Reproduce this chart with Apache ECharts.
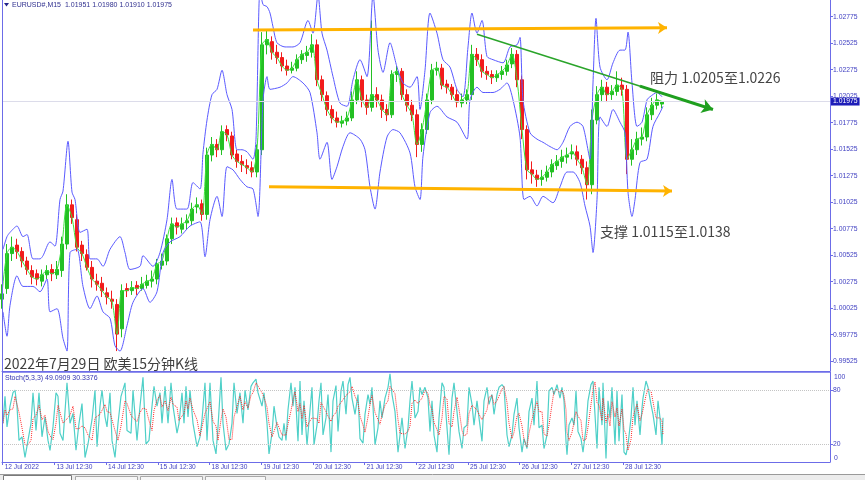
<!DOCTYPE html>
<html><head><meta charset="utf-8">
<script src="https://cdn.jsdelivr.net/npm/echarts@6/dist/echarts.min.js"></script>
<style>html,body{margin:0;padding:0;background:#fff}#c{width:865px;height:480px}</style>
</head><body><div id="c"></div>
<script>
// ---- axis ticks ----
const priceTicks = [1.02775,1.02525,1.02275,1.02025,1.01775,1.01525,1.01275,1.01025,1.00775,1.00525,1.00275,1.00025,0.99775,0.99525];
const timeTickPos = [2.7,54.4,106.1,157.8,209.5,261.2,312.9,364.6,416.3,468,519.7,571.4,623.1];
const timeTickLabels = ['12 Jul 2022','13 Jul 12:30','14 Jul 12:30','15 Jul 12:30','18 Jul 12:30','19 Jul 12:30','20 Jul 12:30','21 Jul 12:30','22 Jul 12:30','25 Jul 12:30','26 Jul 12:30','27 Jul 12:30','28 Jul 12:30'];
const stochLevels = [20,80];

// ---- price candles (one candle per 5 bar-slots) ----
const candleOpen = [1.0011,1.0021,1.0054,1.0062,1.0056,1.0047,1.0038,1.0035,1.0028,1.0034,
1.0039,1.0034,1.0038,1.0063,1.0100,1.0086,1.0062,1.0053,1.0041,1.0028,
1.0026,1.0017,1.0011,1.0006,0.9983,1.0021,1.0019,1.0024,1.0021,1.0024,
1.0028,1.0030,1.0043,1.0047,1.0068,1.0083,1.0077,1.0083,1.0085,1.0098,
1.0101,1.0091,1.0147,1.0157,1.0152,1.0171,1.0165,1.0148,1.0141,1.0137,
1.0135,1.0131,1.0152,1.0251,1.0254,1.0244,1.0239,1.0231,1.0227,1.0229,
1.0237,1.0241,1.0244,1.0251,1.0218,1.0203,1.0190,1.0182,1.0177,1.0179,
1.0182,1.0199,1.0218,1.0199,1.0192,1.0204,1.0199,1.0190,1.0185,1.0223,
1.0226,1.0204,1.0194,1.0185,1.0157,1.0171,1.0199,1.0227,1.0229,1.0214,
1.0211,1.0204,1.0196,1.0199,1.0204,1.0242,1.0237,1.0226,1.0223,1.0220,
1.0223,1.0226,1.0233,1.0242,1.0218,1.0171,1.0133,1.0128,1.0124,1.0126,
1.0131,1.0137,1.0141,1.0145,1.0148,1.0150,1.0143,1.0135,1.0119,1.0180,
1.0204,1.0211,1.0204,1.0207,1.0213,1.0209,1.0143,1.0152,1.0162,1.0164,
1.0185,1.0194,1.01951];
const candleClose = [1.0016,1.0054,1.0060,1.0056,1.0047,1.0039,1.0032,1.0030,1.0034,1.0038,
1.0035,1.0039,1.0063,1.0100,1.0088,1.0060,1.0054,1.0041,1.0030,1.0025,
1.0019,1.0013,1.0009,0.9978,1.0019,1.0019,1.0022,1.0021,1.0025,1.0028,
1.0030,1.0044,1.0047,1.0068,1.0082,1.0079,1.0082,1.0085,1.0096,1.0100,
1.0091,1.0147,1.0157,1.0152,1.0169,1.0166,1.0147,1.0141,1.0138,1.0135,
1.0131,1.0152,1.0251,1.0256,1.0244,1.0239,1.0231,1.0227,1.0229,1.0237,
1.0242,1.0244,1.0251,1.0218,1.0204,1.0190,1.0182,1.0178,1.0179,1.0182,
1.0199,1.0218,1.0199,1.0192,1.0204,1.0199,1.0190,1.0185,1.0223,1.0226,
1.0204,1.0194,1.0185,1.0157,1.0171,1.0199,1.0227,1.0229,1.0213,1.0211,
1.0204,1.0197,1.0199,1.0204,1.0242,1.0237,1.0226,1.0223,1.0220,1.0223,
1.0226,1.0232,1.0242,1.0218,1.0171,1.0133,1.0129,1.0124,1.0126,1.0131,
1.0138,1.0141,1.0145,1.0147,1.0150,1.0143,1.0135,1.0119,1.0180,1.0204,
1.0211,1.0204,1.0207,1.0213,1.0209,1.0143,1.0152,1.0162,1.0164,1.0185,
1.0194,1.0199,1.01975];
const candleLow = [1.0002,1.0016,1.0047,1.0049,1.0041,1.0034,1.0025,1.0024,1.0023,1.0030,
1.0028,1.0030,1.0032,1.0058,1.0082,1.0056,1.0047,1.0038,1.0022,1.0019,
1.0013,1.0006,1.0002,0.9962,0.9975,1.0013,1.0015,1.0015,1.0019,1.0021,
1.0022,1.0025,1.0039,1.0043,1.0063,1.0072,1.0073,1.0077,1.0081,1.0092,
1.0085,1.0086,1.0141,1.0145,1.0147,1.0160,1.0143,1.0135,1.0131,1.0129,
1.0126,1.0126,1.0147,1.0242,1.0237,1.0233,1.0226,1.0222,1.0224,1.0226,
1.0233,1.0235,1.0239,1.0212,1.0197,1.0184,1.0177,1.0173,1.0173,1.0175,
1.0179,1.0195,1.0192,1.0185,1.0188,1.0192,1.0182,1.0179,1.0182,1.0216,
1.0199,1.0188,1.0179,1.0145,1.0150,1.0167,1.0195,1.0222,1.0209,1.0205,
1.0199,1.0192,1.0192,1.0195,1.0199,1.0231,1.0220,1.0218,1.0214,1.0216,
1.0218,1.0222,1.0229,1.0211,1.0162,1.0124,1.0120,1.0117,1.0118,1.0122,
1.0126,1.0133,1.0135,1.0139,1.0143,1.0137,1.0129,1.0105,1.0110,1.0176,
1.0197,1.0197,1.0199,1.0203,1.0203,1.0129,1.0137,1.0147,1.0156,1.0160,
1.0180,1.0190,1.01910];
const candleHigh = [1.0025,1.0063,1.0070,1.0068,1.0060,1.0051,1.0043,1.0039,1.0039,1.0043,
1.0044,1.0047,1.0070,1.0110,1.0105,1.0091,1.0066,1.0058,1.0047,1.0035,
1.0032,1.0022,1.0019,1.0011,1.0025,1.0026,1.0028,1.0028,1.0032,1.0034,
1.0038,1.0049,1.0054,1.0072,1.0088,1.0088,1.0088,1.0091,1.0102,1.0107,
1.0105,1.0154,1.0164,1.0162,1.0175,1.0175,1.0169,1.0152,1.0147,1.0143,
1.0141,1.0157,1.0263,1.0265,1.0259,1.0251,1.0244,1.0237,1.0235,1.0242,
1.0246,1.0250,1.0261,1.0256,1.0222,1.0207,1.0194,1.0188,1.0184,1.0188,
1.0207,1.0226,1.0222,1.0204,1.0274,1.0211,1.0204,1.0195,1.0227,1.0231,
1.0229,1.0209,1.0199,1.0190,1.0177,1.0205,1.0233,1.0235,1.0233,1.0218,
1.0214,1.0209,1.0205,1.0209,1.0251,1.0248,1.0242,1.0231,1.0227,1.0227,
1.0231,1.0237,1.0248,1.0246,1.0222,1.0175,1.0141,1.0133,1.0133,1.0137,
1.0143,1.0147,1.0152,1.0154,1.0157,1.0156,1.0147,1.0141,1.0190,1.0212,
1.0218,1.0216,1.0213,1.0226,1.0220,1.0213,1.0162,1.0169,1.0173,1.0192,
1.0201,1.0205,1.01980];
const candleSlot0 = 2, candleSlotStep = 5;
const lastPrice = 1.01975;

// ---- envelope bands ----
const upperX = [3,7,10,17,23,27,33,40,43,50,55,60,63,68,72,75,80,87,90,97,103,110,120,125,130,140,143,153,160,167,172,177,187,193,200,203,207,212,217,222,227,232,237,242,247,253,256,260,263,267,270,273,277,285,293,300,308,313,318,322,327,333,340,347,353,360,367,373,378,383,390,397,403,410,417,420,425,430,437,443,450,457,463,468,472,477,482,487,493,503,510,517,520,523,530,537,543,550,557,563,570,577,583,590,593,596,600,607,613,620,625,628,632,637,642,647,650,657,662];
const upperV = [1.0058,1.0070,1.0074,1.0080,1.0070,1.0072,1.0049,1.0049,1.0052,1.0065,1.0061,1.0105,1.0113,1.0160,1.0112,1.0105,1.0074,1.0077,1.0049,1.0049,1.0042,1.0058,1.0070,1.0055,1.0039,1.0042,1.0052,1.0042,1.0055,1.0086,1.0124,1.0096,1.0096,1.0121,1.0115,1.0149,1.0180,1.0204,1.0209,1.0227,1.0204,1.0190,1.0152,1.0152,1.0150,1.0143,1.0162,1.0303,1.0289,1.0287,1.0281,1.0268,1.0253,1.0249,1.0249,1.0253,1.0274,1.0262,1.0298,1.0262,1.0246,1.0221,1.0196,1.0193,1.0218,1.0237,1.0221,1.0298,1.0246,1.0225,1.0253,1.0230,1.0215,1.0211,1.0221,1.0190,1.0227,1.0281,1.0262,1.0237,1.0230,1.0209,1.0202,1.0249,1.0281,1.0262,1.0274,1.0240,1.0237,1.0234,1.0249,1.0251,1.0258,1.0199,1.0168,1.0162,1.0159,1.0155,1.0152,1.0159,1.0174,1.0178,1.0174,1.0143,1.0215,1.0276,1.0230,1.0218,1.0234,1.0246,1.0246,1.0263,1.0215,1.0174,1.0178,1.0199,1.0202,1.0206,1.0202];
const lowerX = [3,7,10,17,23,33,40,47,50,57,63,67,70,77,83,90,97,103,110,115,120,127,133,143,150,157,163,170,180,190,200,205,210,217,222,227,233,240,247,253,258,263,267,270,280,287,293,303,310,317,320,327,332,337,343,350,360,365,370,375,380,387,393,400,410,415,420,423,430,437,447,457,467,470,477,483,493,500,507,513,520,524,530,537,543,553,560,567,573,580,585,590,593,597,600,607,613,620,625,628,632,635,640,647,653,660,663];
const lowerV = [0.9999,0.9976,1.0005,1.0033,1.0023,1.0023,1.0018,1.0030,0.9999,1.0002,0.9974,0.9962,1.0055,1.0058,1.0023,1.0002,1.0014,0.9999,0.9993,0.9967,0.9962,0.9986,1.0008,1.0021,1.0008,1.0018,1.0055,1.0065,1.0070,1.0080,1.0084,1.0051,1.0086,1.0108,1.0089,1.0136,1.0133,1.0124,1.0117,1.0115,1.0089,1.0199,1.0221,1.0209,1.0211,1.0215,1.0221,1.0215,1.0206,1.0168,1.0143,1.0159,1.0124,1.0136,1.0155,1.0168,1.0162,1.0152,1.0117,1.0096,1.0131,1.0164,1.0171,1.0168,1.0149,1.0117,1.0105,1.0146,1.0187,1.0193,1.0183,1.0178,1.0162,1.0199,1.0211,1.0206,1.0206,1.0209,1.0215,1.0199,1.0164,1.0105,1.0108,1.0099,1.0108,1.0102,1.0117,1.0131,1.0131,1.0121,1.0099,1.0080,1.0055,1.0105,1.0183,1.0174,1.0190,1.0178,1.0168,1.0112,1.0089,1.0105,1.0140,1.0143,1.0174,1.0187,1.0193];

// ---- drawn lines (bar-slot x, price y) ----
const resistLineX = [253, 667], resistLineY = [1.0265, 1.0267];
const supportLineX = [269, 672], supportLineY = [1.0117, 1.0113];
const trendLineX = [477, 700], trendLineY = [1.0261, 1.0194];
const trendArrowX = [640, 713], trendArrowY = [1.0212, 1.0190];

// ---- stochastic ----
const stochX = [3,5,7,10,13,15,17,19,22,25,28,31,33,36,39,42,45,48,50,53,56,58,60,63,67,70,73,76,79,82,85,88,92,95,97,100,102,105,107,110,112,115,118,121,125,127,131,133,137,140,143,146,149,152,154,157,160,162,165,168,171,173,177,179,182,184,186,188,190,193,197,200,202,205,207,210,213,216,218,221,223,226,229,232,234,237,240,243,245,248,251,253,256,258,262,264,267,269,272,274,277,279,282,284,286,288,291,293,
295,298,300,302,304,307,309,312,314,317,319,321,323,326,328,331,333,336,338,341,343,346,348,350,352,355,358,360,363,365,368,370,372,375,378,380,382,385,388,390,392,395,398,400,402,405,408,410,412,415,418,420,422,425,428,430,432,434,437,439,442,444,447,449,452,454,457,459,462,464,467,469,472,474,477,479,482,484,487,489,492,494,497,499,502,504,507,509,512,514,517,519,522,524,527,529,532,534,537,539,542,544,547,549,552,554,557,
560,562,564,566,567,569,572,574,576,578,581,583,586,588,591,593,595,597,599,602,603,606,608,610,612,615,617,619,622,624,626,628,631,633,635,637,640,642,643,646,648,651,653,656,658,660,662,663];
const stochMain = [43,73,39,62,77,80,62,24,28,5,24,43,77,35,77,28,50,24,13,39,77,73,32,24,88,43,54,13,43,65,5,20,47,80,17,62,80,50,39,77,24,5,43,73,88,35,32,80,24,62,94,20,24,62,84,62,77,43,84,43,88,62,32,43,77,43,84,50,80,43,17,28,47,88,24,88,24,9,39,94,43,13,20,43,88,54,77,43,80,58,84,88,92,77,62,77,43,9,32,62,39,28,24,43,24,58,88,62,
83,23,90,30,68,19,45,83,19,41,68,88,30,49,75,11,68,85,34,79,90,53,86,94,71,53,75,26,21,53,75,64,83,19,38,68,49,71,83,98,75,56,11,30,49,15,38,68,90,49,56,83,75,83,71,34,68,30,11,49,88,83,38,8,71,88,56,34,15,38,41,83,64,41,68,49,23,68,83,64,75,53,75,83,86,83,30,17,30,53,71,38,11,26,15,56,71,41,90,38,41,15,30,79,83,75,86,
71,83,68,23,8,41,49,41,79,34,26,11,38,68,86,90,92,15,83,41,88,4,68,49,83,19,79,23,75,11,8,19,49,83,41,68,30,60,71,90,83,64,53,30,68,49,19,49.09];
const stochSignal = [43,58,52,58,59,73,73,55,38,19,19,24,48,52,63,47,52,34,29,25,43,63,61,43,48,52,62,37,37,40,38,30,24,49,48,53,53,64,56,55,47,35,24,40,68,65,52,49,45,55,60,59,46,35,57,69,74,61,68,57,72,64,61,46,51,54,68,59,71,58,47,29,31,54,53,67,45,40,24,47,59,50,25,25,50,62,73,58,67,60,74,77,88,86,77,72,61,43,28,34,44,43,30,32,30,42,57,69,
78,56,65,48,63,39,44,49,49,48,43,66,62,56,51,45,51,55,62,66,68,74,76,78,84,73,66,51,41,33,50,64,74,55,47,42,52,63,68,84,85,76,47,32,30,31,34,40,65,69,65,63,71,80,76,63,58,44,36,30,49,73,70,43,39,56,72,59,35,29,31,54,63,63,58,53,47,47,58,72,74,64,68,70,81,84,66,43,26,33,51,54,40,25,17,32,47,56,67,56,56,31,29,41,64,79,81,
77,80,74,58,33,24,33,44,56,51,46,24,25,39,64,81,89,66,63,46,71,44,53,40,67,50,60,40,59,36,31,13,25,50,58,64,46,53,54,74,81,79,67,49,50,49,45,30.34];

// ---- build ----
const axisBlue = '#6c6ce8';
const labelBlue = '#4242c2';
const uiFont = '"Liberation Sans", "DejaVu Sans", sans-serif';
const cjkFont = '"Noto Sans CJK SC", sans-serif';

const candleData = candleClose.map((c, i) => [candleSlot0 + candleSlotStep * i, candleOpen[i], c, candleLow[i], candleHigh[i]]);
const maData = candleClose.map((c, i) => [candleSlot0 + candleSlotStep * i, c]);
const upperData = upperX.map((x, i) => [x, upperV[i]]);
const lowerData = lowerX.map((x, i) => [x, lowerV[i]]);
const kData = stochX.map((x, i) => [x, stochMain[i]]);
const dData = stochX.map((x, i) => [x, stochSignal[i]]);

function seg(xs, ys, style, endSymbol, endSize) {
  return [
    {coord: [xs[0], ys[0]], lineStyle: style, symbol: 'none'},
    {coord: [xs[1], ys[1]], symbol: endSymbol, symbolSize: endSize}
  ];
}

const chart = echarts.init(document.getElementById('c'), null, {renderer: 'canvas'});
chart.setOption({
  animation: false,
  backgroundColor: '#ffffff',
  grid: [
    {left: 2, right: 35, top: 0, bottom: 109},
    {left: 2, right: 35, top: 372, bottom: 18}
  ],
  xAxis: [
    {type: 'value', gridIndex: 0, min: 2, max: 830,
      axisLine: {show: true, lineStyle: {color: axisBlue, width: 1}},
      axisTick: {show: false}, axisLabel: {show: false}, splitLine: {show: false}},
    {type: 'value', gridIndex: 1, min: 2, max: 830,
      axisLine: {show: true, lineStyle: {color: axisBlue, width: 1}},
      axisTick: {show: true, customValues: timeTickPos, length: 3, lineStyle: {color: axisBlue}},
      axisLabel: {show: true, customValues: timeTickPos,
        formatter: v => { const i = timeTickPos.indexOf(v); return i >= 0 ? timeTickLabels[i] : ''; },
        align: 'left', margin: 2, fontSize: 6.6, color: labelBlue, fontFamily: uiFont, padding: [0, 0, 0, 2]},
      splitLine: {show: false}}
  ],
  yAxis: [
    {type: 'value', gridIndex: 0, position: 'right', min: 0.99432, max: 1.02933,
      axisLine: {show: true, lineStyle: {color: axisBlue}},
      axisTick: {show: true, customValues: priceTicks, length: 3, lineStyle: {color: axisBlue}},
      axisLabel: {show: true, customValues: priceTicks, formatter: v => Number(v).toFixed(5),
        margin: 3, fontSize: 6.8, color: labelBlue, fontFamily: uiFont},
      splitLine: {show: false}},
    {type: 'value', gridIndex: 1, position: 'right', min: 0, max: 100,
      axisLine: {show: true, lineStyle: {color: axisBlue}},
      axisTick: {show: true, customValues: stochLevels, length: 3, lineStyle: {color: axisBlue}},
      axisLabel: {show: true, customValues: stochLevels, margin: 3, fontSize: 6.8, color: labelBlue, fontFamily: uiFont},
      splitLine: {show: false}}
  ],
  series: [
    {type: 'candlestick', name: 'EURUSD', xAxisIndex: 0, yAxisIndex: 0, data: candleData,
      encode: {x: 0, y: [1, 2, 3, 4]}, barWidth: 4, z: 2,
      itemStyle: {color: '#24c024', color0: '#f21c1c', borderColor: '#24c024', borderColor0: '#f21c1c', borderWidth: 1},
      markLine: {silent: true, symbol: 'none', animation: false, precision: 5,
        lineStyle: {color: '#dcdcea', width: 1, type: 'solid'},
        label: {show: true, position: 'end', distance: 1, formatter: () => lastPrice.toFixed(5),
          color: '#ffffff', backgroundColor: '#1e1eb8', padding: [1, 2, 0, 2], fontSize: 6.8, fontFamily: uiFont},
        data: [{yAxis: lastPrice}]}},
    {type: 'line', name: 'MA', xAxisIndex: 0, yAxisIndex: 0, data: maData, showSymbol: false, smooth: 0.3,
      lineStyle: {color: '#3be23b', width: 1}, z: 3},
    {type: 'line', name: 'Upper', xAxisIndex: 0, yAxisIndex: 0, data: upperData, showSymbol: false, smooth: 0.25,
      lineStyle: {color: '#5a5aff', width: 1}, z: 4,
      markLine: {silent: true, animation: false, label: {show: false}, symbol: ['none', 'arrow'], symbolSize: 9,
        data: [
          seg(resistLineX, resistLineY, {color: '#ffb300', width: 3, type: 'solid'}, 'arrow', 9),
          seg(supportLineX, supportLineY, {color: '#ffb300', width: 3, type: 'solid'}, 'arrow', 9),
          seg(trendLineX, trendLineY, {color: '#2aa42a', width: 1.5, type: 'solid'}, 'none', 1),
          seg(trendArrowX, trendArrowY, {color: '#1f9f1f', width: 3, type: 'solid'}, 'arrow', 11)
        ]}},
    {type: 'line', name: 'Lower', xAxisIndex: 0, yAxisIndex: 0, data: lowerData, showSymbol: false, smooth: 0.25,
      lineStyle: {color: '#5a5aff', width: 1}, z: 4},
    {type: 'line', name: '%K', xAxisIndex: 1, yAxisIndex: 1, data: kData, showSymbol: false,
      lineStyle: {color: '#4fd0c8', width: 1.2}, z: 3,
      markLine: {silent: true, symbol: 'none', animation: false, label: {show: false},
        lineStyle: {color: '#c4c4c4', width: 1, type: 'dotted'},
        data: stochLevels.map(v => ({yAxis: v}))}},
    {type: 'line', name: '%D', xAxisIndex: 1, yAxisIndex: 1, data: dData, showSymbol: false,
      lineStyle: {color: '#ff2a2a', width: 1, type: 'dotted'}, z: 4}
  ],
  graphic: [
    {type: 'line', z: 50, shape: {x1: 2.5, y1: 0, x2: 2.5, y2: 462}, style: {stroke: axisBlue, lineWidth: 1}},
    {type: 'line', z: 50, shape: {x1: 2, y1: 372, x2: 830, y2: 372}, style: {stroke: axisBlue, lineWidth: 1.5}},
    {type: 'polygon', z: 50, shape: {points: [[4, 3], [9, 3], [6.5, 6.5]]}, style: {fill: '#24248a'}},
    {type: 'text', z: 50, x: 12, y: 5.5, style: {text: 'EURUSD#,M15  1.01951 1.01980 1.01910 1.01975',
      fontSize: 7, fontFamily: uiFont, fill: '#30308f', verticalAlign: 'middle'}},
    {type: 'text', z: 50, x: 5, y: 378.5, style: {text: 'Stoch(5,3,3) 49.0909 30.3376',
      fontSize: 7, fontFamily: uiFont, fill: '#3434b0', verticalAlign: 'middle'}},
    {type: 'text', z: 50, x: 834, y: 377, style: {text: '100', fontSize: 6.8, fontFamily: uiFont, fill: labelBlue, verticalAlign: 'middle'}},
    {type: 'text', z: 50, x: 834, y: 458, style: {text: '0', fontSize: 6.8, fontFamily: uiFont, fill: labelBlue, verticalAlign: 'middle'}},
    {type: 'text', z: 60, x: 4, y: 364, style: {text: '2022年7月29日 欧美15分钟K线', fontSize: 14, fontFamily: cjkFont, fill: '#3f3f3f', verticalAlign: 'middle'}},
    {type: 'text', z: 60, x: 650, y: 77.5, style: {text: '阻力 1.0205至1.0226', fontSize: 14, fontFamily: cjkFont, fill: '#444444', verticalAlign: 'middle'}},
    {type: 'text', z: 60, x: 600, y: 232, style: {text: '支撑 1.0115至1.0138', fontSize: 14, fontFamily: cjkFont, fill: '#444444', verticalAlign: 'middle'}},
    {type: 'rect', z: 40, shape: {x: 0, y: 475, width: 865, height: 5}, style: {fill: '#ececec'}},
    {type: 'line', z: 41, shape: {x1: 0, y1: 474.5, x2: 865, y2: 474.5}, style: {stroke: '#9a9a9a', lineWidth: 1}},
    {type: 'rect', z: 42, shape: {x: 3.5, y: 475.5, width: 68, height: 6}, style: {fill: '#ffffff', stroke: '#7a7a7a', lineWidth: 1}},
    {type: 'rect', z: 42, shape: {x: 75.5, y: 476.5, width: 62, height: 5}, style: {fill: '#f7f7f7', stroke: '#a8a8a8', lineWidth: 1}},
    {type: 'rect', z: 42, shape: {x: 140.5, y: 476.5, width: 62, height: 5}, style: {fill: '#f7f7f7', stroke: '#a8a8a8', lineWidth: 1}},
    {type: 'rect', z: 42, shape: {x: 205.5, y: 476.5, width: 60, height: 5}, style: {fill: '#f7f7f7', stroke: '#a8a8a8', lineWidth: 1}}
  ]
});
</script>
</body></html>
